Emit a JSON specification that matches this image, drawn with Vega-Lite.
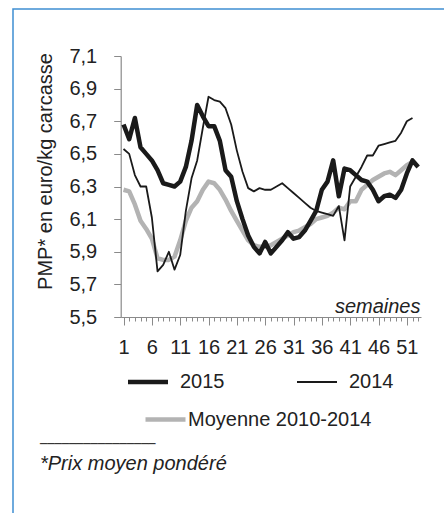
{
  "$schema": "https://vega.github.io/schema/vega-lite/v6.json",
  "width": 433,
  "height": 506,
  "autosize": {"type": "none"},
  "padding": {"left": 13, "top": 9, "right": -2, "bottom": -2},
  "background": "white",
  "config": {
    "font": "Liberation Sans",
    "view": {"stroke": "#3f8fd2", "strokeWidth": 1.5}
  },
  "title": {
    "text": "────────────────",
    "subtitle": "*Prix moyen pondéré",
    "orient": "top",
    "anchor": "start",
    "frame": "group",
    "font": "DejaVu Sans",
    "fontSize": 12,
    "fontWeight": "normal",
    "color": "#222222",
    "subtitleFont": "Liberation Sans",
    "subtitleFontSize": 20,
    "subtitleFontStyle": "italic",
    "subtitleColor": "#222222",
    "subtitlePadding": 3,
    "dx": 27,
    "dy": 470
  },
  "data": {
    "values": [
      {"serie": "2015", "semaine": 1, "prix": 6.68},
      {"serie": "2015", "semaine": 2, "prix": 6.59},
      {"serie": "2015", "semaine": 3, "prix": 6.72},
      {"serie": "2015", "semaine": 4, "prix": 6.54},
      {"serie": "2015", "semaine": 5, "prix": 6.50},
      {"serie": "2015", "semaine": 6, "prix": 6.46},
      {"serie": "2015", "semaine": 7, "prix": 6.40},
      {"serie": "2015", "semaine": 8, "prix": 6.32},
      {"serie": "2015", "semaine": 9, "prix": 6.31},
      {"serie": "2015", "semaine": 10, "prix": 6.30},
      {"serie": "2015", "semaine": 11, "prix": 6.33},
      {"serie": "2015", "semaine": 12, "prix": 6.42},
      {"serie": "2015", "semaine": 13, "prix": 6.58},
      {"serie": "2015", "semaine": 14, "prix": 6.80},
      {"serie": "2015", "semaine": 15, "prix": 6.73},
      {"serie": "2015", "semaine": 16, "prix": 6.67},
      {"serie": "2015", "semaine": 17, "prix": 6.67},
      {"serie": "2015", "semaine": 18, "prix": 6.58},
      {"serie": "2015", "semaine": 19, "prix": 6.40},
      {"serie": "2015", "semaine": 20, "prix": 6.36},
      {"serie": "2015", "semaine": 21, "prix": 6.21},
      {"serie": "2015", "semaine": 22, "prix": 6.10},
      {"serie": "2015", "semaine": 23, "prix": 6.00},
      {"serie": "2015", "semaine": 24, "prix": 5.93},
      {"serie": "2015", "semaine": 25, "prix": 5.89},
      {"serie": "2015", "semaine": 26, "prix": 5.96},
      {"serie": "2015", "semaine": 27, "prix": 5.89},
      {"serie": "2015", "semaine": 28, "prix": 5.93},
      {"serie": "2015", "semaine": 29, "prix": 5.97},
      {"serie": "2015", "semaine": 30, "prix": 6.02},
      {"serie": "2015", "semaine": 31, "prix": 5.98},
      {"serie": "2015", "semaine": 32, "prix": 5.99},
      {"serie": "2015", "semaine": 33, "prix": 6.03},
      {"serie": "2015", "semaine": 34, "prix": 6.09},
      {"serie": "2015", "semaine": 35, "prix": 6.15},
      {"serie": "2015", "semaine": 36, "prix": 6.28},
      {"serie": "2015", "semaine": 37, "prix": 6.33},
      {"serie": "2015", "semaine": 38, "prix": 6.46},
      {"serie": "2015", "semaine": 39, "prix": 6.24},
      {"serie": "2015", "semaine": 40, "prix": 6.41},
      {"serie": "2015", "semaine": 41, "prix": 6.40},
      {"serie": "2015", "semaine": 42, "prix": 6.37},
      {"serie": "2015", "semaine": 43, "prix": 6.34},
      {"serie": "2015", "semaine": 44, "prix": 6.33},
      {"serie": "2015", "semaine": 45, "prix": 6.28},
      {"serie": "2015", "semaine": 46, "prix": 6.21},
      {"serie": "2015", "semaine": 47, "prix": 6.24},
      {"serie": "2015", "semaine": 48, "prix": 6.25},
      {"serie": "2015", "semaine": 49, "prix": 6.23},
      {"serie": "2015", "semaine": 50, "prix": 6.28},
      {"serie": "2015", "semaine": 51, "prix": 6.38},
      {"serie": "2015", "semaine": 52, "prix": 6.46},
      {"serie": "2015", "semaine": 53, "prix": 6.42},
      {"serie": "2014", "semaine": 1, "prix": 6.53},
      {"serie": "2014", "semaine": 2, "prix": 6.50},
      {"serie": "2014", "semaine": 3, "prix": 6.37},
      {"serie": "2014", "semaine": 4, "prix": 6.30},
      {"serie": "2014", "semaine": 5, "prix": 6.30},
      {"serie": "2014", "semaine": 6, "prix": 6.11},
      {"serie": "2014", "semaine": 7, "prix": 5.78},
      {"serie": "2014", "semaine": 8, "prix": 5.82},
      {"serie": "2014", "semaine": 9, "prix": 5.90},
      {"serie": "2014", "semaine": 10, "prix": 5.79},
      {"serie": "2014", "semaine": 11, "prix": 5.88},
      {"serie": "2014", "semaine": 12, "prix": 6.15},
      {"serie": "2014", "semaine": 13, "prix": 6.35},
      {"serie": "2014", "semaine": 14, "prix": 6.46},
      {"serie": "2014", "semaine": 15, "prix": 6.66},
      {"serie": "2014", "semaine": 16, "prix": 6.85},
      {"serie": "2014", "semaine": 17, "prix": 6.83},
      {"serie": "2014", "semaine": 18, "prix": 6.82},
      {"serie": "2014", "semaine": 19, "prix": 6.78},
      {"serie": "2014", "semaine": 20, "prix": 6.68},
      {"serie": "2014", "semaine": 21, "prix": 6.52},
      {"serie": "2014", "semaine": 22, "prix": 6.39},
      {"serie": "2014", "semaine": 23, "prix": 6.29},
      {"serie": "2014", "semaine": 24, "prix": 6.27},
      {"serie": "2014", "semaine": 25, "prix": 6.29},
      {"serie": "2014", "semaine": 26, "prix": 6.28},
      {"serie": "2014", "semaine": 27, "prix": 6.28},
      {"serie": "2014", "semaine": 28, "prix": 6.30},
      {"serie": "2014", "semaine": 29, "prix": 6.32},
      {"serie": "2014", "semaine": 30, "prix": 6.29},
      {"serie": "2014", "semaine": 31, "prix": 6.26},
      {"serie": "2014", "semaine": 32, "prix": 6.23},
      {"serie": "2014", "semaine": 33, "prix": 6.20},
      {"serie": "2014", "semaine": 34, "prix": 6.17},
      {"serie": "2014", "semaine": 35, "prix": 6.15},
      {"serie": "2014", "semaine": 36, "prix": 6.14},
      {"serie": "2014", "semaine": 37, "prix": 6.13},
      {"serie": "2014", "semaine": 38, "prix": 6.12},
      {"serie": "2014", "semaine": 39, "prix": 6.18},
      {"serie": "2014", "semaine": 40, "prix": 5.97},
      {"serie": "2014", "semaine": 41, "prix": 6.30},
      {"serie": "2014", "semaine": 42, "prix": 6.36},
      {"serie": "2014", "semaine": 43, "prix": 6.42},
      {"serie": "2014", "semaine": 44, "prix": 6.49},
      {"serie": "2014", "semaine": 45, "prix": 6.49},
      {"serie": "2014", "semaine": 46, "prix": 6.55},
      {"serie": "2014", "semaine": 47, "prix": 6.56},
      {"serie": "2014", "semaine": 48, "prix": 6.57},
      {"serie": "2014", "semaine": 49, "prix": 6.58},
      {"serie": "2014", "semaine": 50, "prix": 6.63},
      {"serie": "2014", "semaine": 51, "prix": 6.70},
      {"serie": "2014", "semaine": 52, "prix": 6.72},
      {"serie": "Moyenne 2010-2014", "semaine": 1, "prix": 6.28},
      {"serie": "Moyenne 2010-2014", "semaine": 2, "prix": 6.27},
      {"serie": "Moyenne 2010-2014", "semaine": 3, "prix": 6.19},
      {"serie": "Moyenne 2010-2014", "semaine": 4, "prix": 6.09},
      {"serie": "Moyenne 2010-2014", "semaine": 5, "prix": 6.04},
      {"serie": "Moyenne 2010-2014", "semaine": 6, "prix": 5.98},
      {"serie": "Moyenne 2010-2014", "semaine": 7, "prix": 5.86},
      {"serie": "Moyenne 2010-2014", "semaine": 8, "prix": 5.85},
      {"serie": "Moyenne 2010-2014", "semaine": 9, "prix": 5.85},
      {"serie": "Moyenne 2010-2014", "semaine": 10, "prix": 5.87},
      {"serie": "Moyenne 2010-2014", "semaine": 11, "prix": 5.97},
      {"serie": "Moyenne 2010-2014", "semaine": 12, "prix": 6.09},
      {"serie": "Moyenne 2010-2014", "semaine": 13, "prix": 6.17},
      {"serie": "Moyenne 2010-2014", "semaine": 14, "prix": 6.21},
      {"serie": "Moyenne 2010-2014", "semaine": 15, "prix": 6.28},
      {"serie": "Moyenne 2010-2014", "semaine": 16, "prix": 6.33},
      {"serie": "Moyenne 2010-2014", "semaine": 17, "prix": 6.32},
      {"serie": "Moyenne 2010-2014", "semaine": 18, "prix": 6.28},
      {"serie": "Moyenne 2010-2014", "semaine": 19, "prix": 6.22},
      {"serie": "Moyenne 2010-2014", "semaine": 20, "prix": 6.15},
      {"serie": "Moyenne 2010-2014", "semaine": 21, "prix": 6.09},
      {"serie": "Moyenne 2010-2014", "semaine": 22, "prix": 6.03},
      {"serie": "Moyenne 2010-2014", "semaine": 23, "prix": 5.97},
      {"serie": "Moyenne 2010-2014", "semaine": 24, "prix": 5.94},
      {"serie": "Moyenne 2010-2014", "semaine": 25, "prix": 5.93},
      {"serie": "Moyenne 2010-2014", "semaine": 26, "prix": 5.93},
      {"serie": "Moyenne 2010-2014", "semaine": 27, "prix": 5.94},
      {"serie": "Moyenne 2010-2014", "semaine": 28, "prix": 5.96},
      {"serie": "Moyenne 2010-2014", "semaine": 29, "prix": 5.98},
      {"serie": "Moyenne 2010-2014", "semaine": 30, "prix": 6.00},
      {"serie": "Moyenne 2010-2014", "semaine": 31, "prix": 6.02},
      {"serie": "Moyenne 2010-2014", "semaine": 32, "prix": 6.03},
      {"serie": "Moyenne 2010-2014", "semaine": 33, "prix": 6.05},
      {"serie": "Moyenne 2010-2014", "semaine": 34, "prix": 6.07},
      {"serie": "Moyenne 2010-2014", "semaine": 35, "prix": 6.10},
      {"serie": "Moyenne 2010-2014", "semaine": 36, "prix": 6.11},
      {"serie": "Moyenne 2010-2014", "semaine": 37, "prix": 6.12},
      {"serie": "Moyenne 2010-2014", "semaine": 38, "prix": 6.14},
      {"serie": "Moyenne 2010-2014", "semaine": 39, "prix": 6.17},
      {"serie": "Moyenne 2010-2014", "semaine": 40, "prix": 6.16},
      {"serie": "Moyenne 2010-2014", "semaine": 41, "prix": 6.21},
      {"serie": "Moyenne 2010-2014", "semaine": 42, "prix": 6.21},
      {"serie": "Moyenne 2010-2014", "semaine": 43, "prix": 6.28},
      {"serie": "Moyenne 2010-2014", "semaine": 44, "prix": 6.31},
      {"serie": "Moyenne 2010-2014", "semaine": 45, "prix": 6.34},
      {"serie": "Moyenne 2010-2014", "semaine": 46, "prix": 6.36},
      {"serie": "Moyenne 2010-2014", "semaine": 47, "prix": 6.38},
      {"serie": "Moyenne 2010-2014", "semaine": 48, "prix": 6.39},
      {"serie": "Moyenne 2010-2014", "semaine": 49, "prix": 6.37},
      {"serie": "Moyenne 2010-2014", "semaine": 50, "prix": 6.40},
      {"serie": "Moyenne 2010-2014", "semaine": 51, "prix": 6.43},
      {"serie": "Moyenne 2010-2014", "semaine": 52, "prix": 6.45}
    ]
  },
  "encoding": {
    "y": {
      "field": "prix",
      "type": "quantitative",
      "scale": {"domain": [5.5, 7.1], "range": [308, 47], "nice": false, "zero": false},
      "axis": {
        "orient": "left",
        "offset": -107.7,
        "values": [5.5, 5.7, 5.9, 6.1, 6.3, 6.5, 6.7, 6.9, 7.1],
        "labelExpr": "replace(format(datum.value, '.1f'), '.', ',')",
        "grid": false,
        "tickSize": 7,
        "tickColor": "#8a8a8a",
        "domainColor": "#8a8a8a",
        "domainWidth": 1.2,
        "labelFont": "Liberation Sans",
        "labelFontSize": 20,
        "labelColor": "#222222",
        "labelPadding": 17,
        "title": "PMP* en euro/kg carcasse",
        "titleFont": "Liberation Sans",
        "titleFontSize": 20,
        "titleFontWeight": "normal",
        "titleColor": "#222222",
        "titleX": -75,
        "titleY": 162,
        "titleAngle": -90,
        "titleAlign": "center",
        "titleBaseline": "middle"
      }
    },
    "color": {
      "field": "serie",
      "type": "nominal",
      "scale": {"domain": ["2015", "2014", "Moyenne 2010-2014"], "range": ["#1a1a1a", "#1a1a1a", "#b3b3b3"]},
      "legend": {
        "values": ["2015", "2014"],
        "orient": "none",
        "direction": "horizontal",
        "legendX": 125,
        "legendY": 363,
        "columnPadding": 68,
        "padding": 0,
        "title": null,
        "symbolType": "stroke",
        "symbolSize": 1600,
        "labelOffset": 22,
        "labelLimit": 400,
        "labelFont": "Liberation Sans",
        "labelFontSize": 20,
        "labelColor": "#222222",
        "encode": {
          "symbols": {
            "update": {
              "strokeWidth": {"signal": "datum.value === '2014' ? 1.8 : 4.5"}
            }
          }
        }
      }
    }
  },
  "layer": [
    {
      "transform": [{"filter": "datum.serie === 'Moyenne 2010-2014'"}],
      "mark": {"type": "line", "strokeJoin": "round"},
      "encoding": {
        "strokeWidth": {
          "field": "serie",
          "type": "nominal",
          "scale": {"domain": ["Moyenne 2010-2014"], "range": [4.5, 4.5]},
          "legend": {
            "orient": "none",
            "direction": "horizontal",
            "legendX": 130,
            "legendY": 388,
            "padding": 0,
            "title": null,
            "symbolType": "stroke",
            "symbolSize": 1600,
            "symbolStrokeColor": "#b3b3b3",
            "labelOffset": 0,
            "labelLimit": 400,
            "labelFont": "Liberation Sans",
            "labelFontSize": 20,
            "labelColor": "#222222",
            "encode": {
              "symbols": {
                "update": {
                  "stroke": {"value": "#b3b3b3"},
                  "strokeWidth": {"value": 4.5}
                }
              }
            }
          }
        },
        "x": {
          "field": "semaine",
          "type": "quantitative",
          "scale": {"domain": [0.5, 53.5], "range": [107.7, 408], "nice": false, "zero": false},
          "axis": {
            "orient": "bottom",
            "offset": -198,
            "values": [1, 6, 11, 16, 21, 26, 31, 36, 41, 46, 51],
            "format": "d",
            "grid": false,
            "tickSize": 8,
            "tickColor": "#8a8a8a",
            "domainColor": "#8a8a8a",
            "domainWidth": 1.2,
            "labelFont": "Liberation Sans",
            "labelFontSize": 20,
            "labelColor": "#222222",
            "labelPadding": 12,
            "labelFlush": false,
            "labelOverlap": false,
            "title": "semaines",
            "titleFont": "Liberation Sans",
            "titleFontSize": 20,
            "titleFontStyle": "italic",
            "titleFontWeight": "normal",
            "titleColor": "#222222",
            "titleX": 407,
            "titleY": -5,
            "titleAlign": "right",
            "titleBaseline": "alphabetic"
          }
        }
      }
    },
    {
      "transform": [{"filter": "datum.serie === '2014'"}],
      "mark": {"type": "line", "strokeWidth": 1.8, "strokeJoin": "round"},
      "encoding": {
        "x": {
          "field": "semaine",
          "type": "quantitative",
          "axis": {
            "orient": "bottom",
            "offset": -198,
            "values": [1, 2, 3, 4, 5, 6, 7, 8, 9, 10, 11, 12, 13, 14, 15, 16, 17, 18, 19, 20, 21, 22, 23, 24, 25, 26, 27, 28, 29, 30, 31, 32, 33, 34, 35, 36, 37, 38, 39, 40, 41, 42, 43, 44, 45, 46, 47, 48, 49, 50, 51, 52, 53],
            "grid": false,
            "domain": false,
            "labels": false,
            "tickSize": 4,
            "tickColor": "#8a8a8a",
            "title": null
          }
        }
      }
    },
    {
      "transform": [{"filter": "datum.serie === '2015'"}],
      "mark": {"type": "line", "strokeWidth": 4.5, "strokeJoin": "round"},
      "encoding": {
        "x": {
          "field": "semaine",
          "type": "quantitative",
          "axis": null
        }
      }
    }
  ],
  "resolve": {"axis": {"x": "independent"}}
}
